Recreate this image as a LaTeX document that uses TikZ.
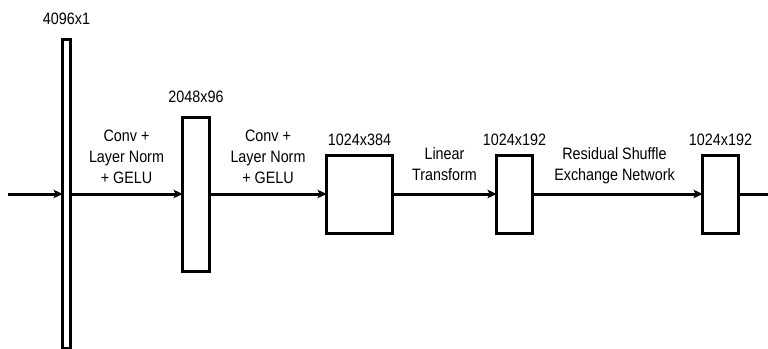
\documentclass[tikz,border=0pt]{standalone}
\usepackage{fontspec}
\setmainfont{Liberation Sans}[FakeStretch=0.87]
\usepackage{tikz}
\usetikzlibrary{arrows.meta,positioning}
\definecolor{dgedge}{RGB}{0,0,0}
\tikzset{
  dgbox/.style={
    draw=dgedge, line width=3pt, fill=white,
    inner sep=0pt, outer sep=0pt
  },
  bar/.style={dgbox, minimum width=8pt, minimum height=309pt},
  tallbox/.style={dgbox, minimum width=27pt, minimum height=154pt},
  widebox/.style={dgbox, minimum width=66pt, minimum height=78pt},
  slimbox/.style={dgbox, minimum width=36pt, minimum height=78pt},
  dim/.style={font=\fontsize{16.5}{21}\selectfont, inner sep=0pt},
  oplbl/.style={font=\fontsize{16.5}{21}\selectfont, align=center, inner sep=0pt, above=9pt},
  arr/.style={-{Stealth[length=9pt,width=8.5pt,inset=2pt]}, draw=dgedge, line width=3pt},
  wire/.style={draw=dgedge, line width=3pt},
  every picture/.append style={x=1pt, y=-1pt, line join=miter}
}
\begin{document}
\begin{tikzpicture}
  \useasboundingbox (0,0) rectangle (768,348);
  \clip (0,0) rectangle (768,348);
  % blocks
  \node[bar] (inp) at (66.5,194) {};
  \node[tallbox, right=112pt of inp] (conv1) {};
  \node[widebox, right=117pt of conv1] (conv2) {};
  \node[slimbox, right=104pt of conv2] (lin) {};
  \node[slimbox, right=170pt of lin] (rse) {};
  % sizes
  \node[dim, above=14.5pt of inp] (inpsz) {4096x1};
  \node[dim, above=14.5pt of conv1] (conv1sz) {2048x96};
  \node[dim, above=9.5pt of conv2] (conv2sz) {1024x384};
  \node[dim, above=9.5pt of lin] (linsz) {1024x192};
  \node[dim, above=9.5pt of rse] (rsesz) {1024x192};
  % flow
  \coordinate (src) at (8,194);
  \coordinate (snk) at (768,194);
  \draw[arr] (src) -- (inp);
  \draw[arr] (inp) -- node[oplbl] (op1) {Conv +\\Layer Norm\\+ GELU} (conv1);
  \draw[arr] (conv1) -- node[oplbl] (op2) {Conv +\\Layer Norm\\+ GELU} (conv2);
  \draw[arr] (conv2) -- node[oplbl, above=12pt] (op3) {Linear\\Transform} (lin);
  \draw[arr] (lin) -- node[oplbl, xshift=-3pt] (op4) {Residual Shuffle\\Exchange Network} (rse);
  \draw[wire] (rse) -- (snk);
\end{tikzpicture}
\end{document}
